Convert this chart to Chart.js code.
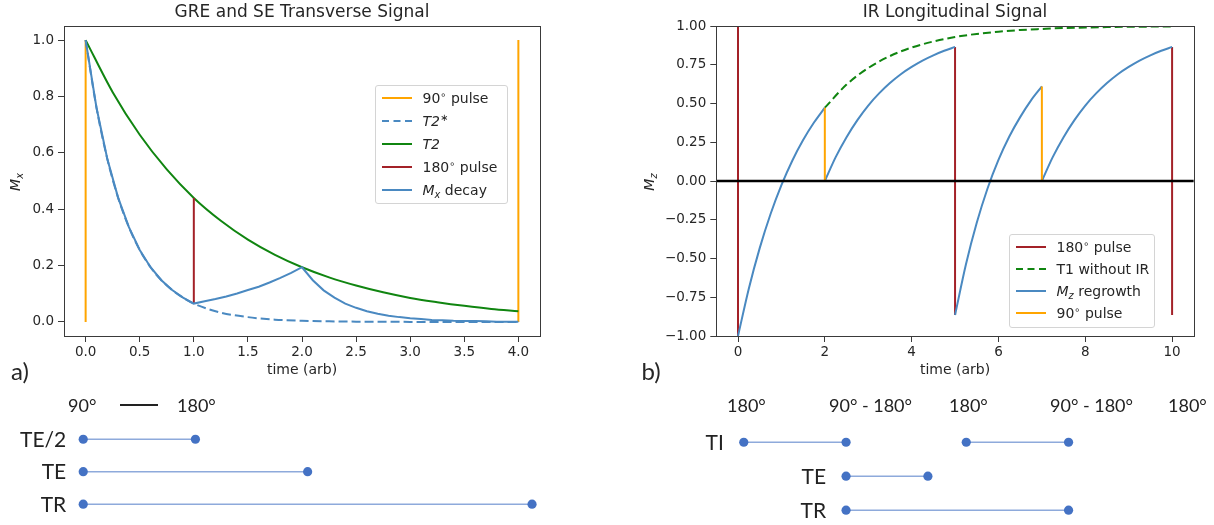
<!DOCTYPE html>
<html>
<head>
<meta charset="utf-8">
<title>GRE / SE and IR signals</title>
<script src="https://cdn.jsdelivr.net/npm/chart.js@4.4.1/dist/chart.umd.min.js"></script>
<style>
    body { margin: 0; width: 1214px; height: 525px; background: #fff; position: relative; overflow: hidden;
           font-family: 'DejaVu Sans', sans-serif; color: #262626; }
    canvas { position: absolute; }
    .ylab { position: absolute; transform: translate(-50%, -50%) rotate(-90deg); font-size: 14px; white-space: nowrap; }
    .panel { position: absolute; font-family: Lato, sans-serif; font-size: 24px; transform: translate(-50%, -50%); }
    .hdr { position: absolute; font-family: Lato, sans-serif; font-size: 18px; line-height: 18px; transform: translateY(-50%); white-space: nowrap; color: #222; }
    .dash { position: absolute; height: 1.5px; background: #222; }
    .legend { position: absolute; box-sizing: border-box; border: 1px solid #d4d4d4; border-radius: 3px;
              background: rgba(255,255,255,0.85); font-size: 14px; padding-left: 6px; }
    .legend .row { display: flex; align-items: center; white-space: nowrap; }
    .legend .row span { margin-left: 10.5px; }
    sup, sub { font-size: 70%; line-height: 0; vertical-align: baseline; position: relative; }
    sup { top: -0.5em; }
    sub { top: 0.3em; }
</style>
</head>
<body>

<canvas id="chart-a" width="560" height="385" style="left:0;top:0"></canvas>
<canvas id="chart-b" width="614" height="385" style="left:600px;top:0"></canvas>
<canvas id="diag-a" width="600" height="140" style="left:0;top:385px"></canvas>
<canvas id="diag-b" width="614" height="140" style="left:600px;top:385px"></canvas>

<div class="ylab" style="left:15px;top:182px"><i>M<sub>x</sub></i></div>
<div class="ylab" style="left:649px;top:182px"><i>M<sub>z</sub></i></div>
<div class="panel" style="left:20px;top:370px">a)</div>
<div class="panel" style="left:651px;top:370px">b)</div>

<div id="legend-a" class="legend" style="left:375px;top:85px;width:133px;height:119px"></div>
<div id="legend-b" class="legend" style="left:1009px;top:234px;width:146px;height:94px;padding-top:0.6px"></div>

<!-- pulse headers over the timing diagrams -->
<div class="hdr" style="left:68px;top:405px">90°</div>
<div class="dash" style="left:120px;top:404px;width:38px"></div>
<div class="hdr" style="left:177px;top:405px">180°</div>
<div class="hdr" style="left:727px;top:405px">180°</div>
<div class="hdr" style="left:829px;top:405px">90° - 180°</div>
<div class="hdr" style="left:949px;top:405px">180°</div>
<div class="hdr" style="left:1050px;top:405px">90° - 180°</div>
<div class="hdr" style="left:1168px;top:405px">180°</div>

<script>
// ---------- a) GRE and SE transverse signal ----------
const mxTime = [0, 0.1, 0.2, 0.3, 0.4, 0.5, 0.6, 0.7, 0.8, 0.9, 1, 1.1, 1.2, 1.3, 1.4, 1.5, 1.6, 1.7, 1.8, 1.9, 2,
                2.1, 2.2, 2.3, 2.4, 2.5, 2.6, 2.7, 2.8, 2.9, 3, 3.1, 3.2, 3.3, 3.4, 3.5, 3.6, 3.7, 3.8, 3.9, 4];
const mxDecay = [1, 0.761, 0.579, 0.441, 0.336, 0.255, 0.194, 0.148, 0.113, 0.086, 0.065, 0.073, 0.081, 0.090, 0.101,
                 0.113, 0.125, 0.140, 0.156, 0.174, 0.194, 0.148, 0.112, 0.086, 0.065, 0.050, 0.038, 0.029, 0.022,
                 0.017, 0.013, 0.010, 0.007, 0.006, 0.004, 0.003, 0.003, 0.002, 0.001, 0.001, 0.001];
const t2StarTime = [0, 0.1, 0.2, 0.3, 0.4, 0.5, 0.6, 0.7, 0.8, 0.9, 1, 1.25, 1.5, 1.75, 2, 2.25, 2.5, 2.75, 3, 3.25, 3.5, 3.75, 4];
const t2StarVal = [1, 0.761, 0.579, 0.441, 0.336, 0.255, 0.194, 0.148, 0.113, 0.086, 0.065, 0.033, 0.017, 0.008,
                   0.004, 0.002, 0.001, 0.001, 0, 0, 0, 0, 0];
const t2Time = [0, 0.25, 0.5, 0.75, 1, 1.25, 1.5, 1.75, 2, 2.25, 2.5, 2.75, 3, 3.25, 3.5, 3.75, 4];
const t2Val = [1, 0.815, 0.664, 0.541, 0.440, 0.359, 0.292, 0.238, 0.194, 0.158, 0.129, 0.105, 0.085, 0.070, 0.057, 0.046, 0.038];
const pulse90TimeA = [0, 0, 4, 4, 4];
const pulse90ValA = [0, 1, null, 0, 1];
const pulse180TimeA = [1, 1];
const pulse180ValA = [0.065, 0.44];
const xTicksA = [0, 0.5, 1, 1.5, 2, 2.5, 3, 3.5, 4];
const yTicksA = [0, 0.2, 0.4, 0.6, 0.8, 1];

// ---------- b) IR longitudinal signal ----------
const mzTime = [0, 0.25, 0.5, 0.75, 1, 1.25, 1.5, 1.75, 2, 2,
                2, 2.25, 2.5, 2.75, 3, 3.25, 3.5, 3.75, 4, 4.25, 4.5, 4.75, 5, 5,
                5, 5.25, 5.5, 5.75, 6, 6.25, 6.5, 6.75, 7, 7,
                7, 7.25, 7.5, 7.75, 8, 8.25, 8.5, 8.75, 9, 9.25, 9.5, 9.75, 10];
const mzVal = [-1, -0.693, -0.433, -0.213, -0.027, 0.131, 0.264, 0.377, 0.473, null,
               0, 0.154, 0.283, 0.393, 0.487, 0.565, 0.632, 0.689, 0.736, 0.777, 0.811, 0.840, 0.865, null,
               -0.865, -0.539, -0.270, -0.047, 0.136, 0.287, 0.412, 0.520, 0.610, null,
               0, 0.154, 0.283, 0.393, 0.487, 0.565, 0.632, 0.689, 0.736, 0.777, 0.811, 0.840, 0.865];
const t1Time = [2, 2.5, 3, 3.5, 4, 4.5, 5, 5.5, 6, 6.5, 7, 7.5, 8, 8.5, 9, 9.5, 10];
const t1Val = [0.473, 0.622, 0.729, 0.806, 0.861, 0.900, 0.929, 0.949, 0.963, 0.974, 0.981, 0.987, 0.990, 0.993, 0.995, 0.996, 0.997];
const pulse180TimeB = [0, 0, 5, 5, 5, 10, 10, 10];
const pulse180ValB = [-1, 1, null, -0.865, 0.865, null, -0.865, 0.865];
const pulse90TimeB = [2, 2, 7, 7, 7];
const pulse90ValB = [0, 0.473, null, 0, 0.61];
const zeroTime = [-0.5, 10.5];
const zeroVal = [0, 0];
const xTicksB = [0, 2, 4, 6, 8, 10];
const yTicksB = [-1, -0.75, -0.5, -0.25, 0, 0.25, 0.5, 0.75, 1];

// ---------- timing diagrams ----------
const rowNamesA = ['TE/2', 'TE', 'TR'];
const segStartA = [0, 0, 0];
const segEndA = [1, 2, 4];
const segRowA = [0, 1, 2];

const rowNamesB = ['TI', 'TE', 'TR'];
const segStartB = [0, 4.35, 2, 2];
const segEndB = [2, 6.35, 3.6, 6.35];
const segRowB = [0, 0, 1, 2];

// Colours
const C = {
    orange: '#ffa500',
    blue: '#4a89c1',
    green: '#108510',
    red: '#a32128',
    black: '#000000',
    dot: '#4472c4',
    link: '#8eaadb'
};

Chart.defaults.font.family = "'DejaVu Sans', sans-serif";
Chart.defaults.color = '#262626';

const pts = (xs, ys) => xs.map((x, i) => ({ x, y: ys[i] }));

// axes box on all four sides, like matplotlib spines
const framePlugin = {
    id: 'frame',
    afterDraw(chart) {
        const { ctx, chartArea: a } = chart;
        ctx.save();
        ctx.strokeStyle = '#3a3a3a';
        ctx.lineWidth = 1;
        ctx.strokeRect(Math.round(a.left) + 0.5, Math.round(a.top) + 0.5, Math.round(a.width), Math.round(a.height));
        ctx.restore();
    }
};

function line(label, xs, ys, color, order, extra = {}) {
    return Object.assign({
        legendHtml: label,
        data: pts(xs, ys),
        borderColor: color,
        backgroundColor: color,
        borderWidth: 2,
        pointRadius: 0,
        pointHitRadius: 0,
        tension: 0,
        order
    }, extra);
}

function signalChart(id, title, datasets, ax) {
    const tickGrid = { drawOnChartArea: false, drawTicks: true, tickLength: 6, color: '#3a3a3a', lineWidth: 1 };
    return new Chart(document.getElementById(id), {
        type: 'line',
        data: { datasets },
        plugins: [framePlugin],
        options: {
            responsive: false,
            animation: false,
            events: [],
            layout: { padding: { left: 0, right: ax.right, top: 0, bottom: 0 } },
            plugins: {
                legend: { display: false },
                tooltip: { enabled: false },
                title: {
                    display: true, text: title, fullSize: false, color: '#262626',
                    font: { size: 17, weight: 'normal' },
                    padding: { top: 2, bottom: 3.6 }
                }
            },
            scales: {
                x: {
                    type: 'linear', min: ax.xMin, max: ax.xMax,
                    grid: tickGrid, border: { display: false },
                    afterBuildTicks: s => { s.ticks = ax.xTicks.map(v => ({ value: v })); },
                    afterFit: s => { s.height = 49; },
                    ticks: { font: { size: 13.5 }, padding: 2, autoSkip: false, maxRotation: 0, callback: ax.xFmt },
                    title: { display: true, text: 'time (arb)', font: { size: 14 }, padding: { top: 0, bottom: 6.6 } }
                },
                y: {
                    type: 'linear', min: ax.yMin, max: ax.yMax,
                    grid: tickGrid, border: { display: false },
                    afterBuildTicks: s => { s.ticks = ax.yTicks.map(v => ({ value: v })); },
                    afterFit: s => { s.width = ax.yWidth; },
                    ticks: { font: { size: 13.5 }, padding: 4, autoSkip: false, callback: ax.yFmt }
                }
            }
        }
    });
}

function htmlLegend(chart, boxId, rowHeight) {
    const box = document.getElementById(boxId);
    box.innerHTML = chart.data.datasets.filter(d => d.legendHtml).map(d => `
        <div class="row" style="height:${rowHeight}px">
            <svg width="30" height="4"><line x1="0" y1="2" x2="30" y2="2" stroke="${d.borderColor}" stroke-width="2"
                ${d.borderDash ? 'stroke-dasharray="7 4.5"' : ''}/></svg>
            <span>${d.legendHtml}</span>
        </div>`).join('');
}

// a) chart
const chartA = signalChart('chart-a', 'GRE and SE Transverse Signal', [
    line('90<sup>∘</sup> pulse', pulse90TimeA, pulse90ValA, C.orange, 5),
    line('<i>T2</i><sup>∗</sup>', t2StarTime, t2StarVal, C.blue, 4, { borderDash: [9, 4], cubicInterpolationMode: 'monotone' }),
    line('<i>T2</i>', t2Time, t2Val, C.green, 3, { cubicInterpolationMode: 'monotone' }),
    line('180<sup>∘</sup> pulse', pulse180TimeA, pulse180ValA, C.red, 2),
    line('<i>M<sub>x</sub></i> decay', mxTime, mxDecay, C.blue, 1)
], {
    right: 20, xMin: -0.2, xMax: 4.2, yMin: -0.05, yMax: 1.05, yWidth: 64,
    xTicks: xTicksA, yTicks: yTicksA,
    xFmt: v => v.toFixed(1), yFmt: v => v.toFixed(1)
});
htmlLegend(chartA, 'legend-a', 23.2);

// b) chart
const chartB = signalChart('chart-b', 'IR Longitudinal Signal', [
    line('180<sup>∘</sup> pulse', pulse180TimeB, pulse180ValB, C.red, 4),
    line('T1 without IR', t1Time, t1Val, C.green, 3, { borderDash: [8, 4], cubicInterpolationMode: 'monotone' }),
    line('<i>M<sub>z</sub></i> regrowth', mzTime, mzVal, C.blue, 2, { cubicInterpolationMode: 'monotone' }),
    line('90<sup>∘</sup> pulse', pulse90TimeB, pulse90ValB, C.orange, 1),
    line(null, zeroTime, zeroVal, C.black, 0, { borderWidth: 2.5 })
], {
    right: 20.2, xMin: -0.5, xMax: 10.5, yMin: -1, yMax: 1, yWidth: 116.3,
    xTicks: xTicksB, yTicks: yTicksB,
    xFmt: v => String(v), yFmt: v => v.toFixed(2).replace('-', '\u2212')
});
htmlLegend(chartB, 'legend-b', 22.2);

// timing diagrams: one dataset per segment, row name left of the first segment
const rowLabelPlugin = {
    id: 'rowLabels',
    afterDatasetsDraw(chart, args, opts) {
        const { ctx } = chart;
        ctx.save();
        ctx.font = '21px Lato, sans-serif';
        ctx.fillStyle = '#222';
        ctx.textAlign = 'right';
        ctx.textBaseline = 'middle';
        chart.data.datasets.forEach((d, i) => {
            if (!d.rowLabel) return;
            const p = chart.getDatasetMeta(i).data[0];
            ctx.fillText(d.rowLabel, p.x - opts.gap, p.y + 1);
        });
        ctx.restore();
    }
};

function timingDiagram(id, names, starts, ends, rows, opt) {
    const datasets = starts.map((s, i) => ({
        rowLabel: rows.indexOf(rows[i]) === i ? names[rows[i]] : null,
        data: [{ x: s, y: rows[i] }, { x: ends[i], y: rows[i] }],
        borderColor: C.link,
        borderWidth: 1.5,
        pointRadius: 4.6,
        pointBorderWidth: 0,
        pointBackgroundColor: C.dot,
        clip: false
    }));
    return new Chart(document.getElementById(id), {
        type: 'line',
        data: { datasets },
        plugins: [rowLabelPlugin],
        options: {
            responsive: false,
            animation: false,
            events: [],
            layout: { padding: opt.padding },
            plugins: { legend: { display: false }, tooltip: { enabled: false }, rowLabels: { gap: opt.gap } },
            scales: {
                x: { type: 'linear', display: false, min: opt.xMin, max: opt.xMax },
                y: { type: 'linear', display: false, reverse: true, min: opt.yMin, max: opt.yMax }
            }
        }
    });
}

timingDiagram('diag-a', rowNamesA, segStartA, segEndA, segRowA, {
    padding: { left: 72, right: 54.5, top: 38, bottom: 0 },
    xMin: -0.1, xMax: 4.12, yMin: -0.5, yMax: 2.5, gap: 17
});
timingDiagram('diag-b', rowNamesB, segStartB, segEndB, segRowB, {
    padding: { left: 118.2, right: 112.2, top: 40.25, bottom: 0.35 },
    xMin: -0.5, xMax: 7, yMin: -0.5, yMax: 2.3, gap: 20
});
</script>
</body>
</html>
